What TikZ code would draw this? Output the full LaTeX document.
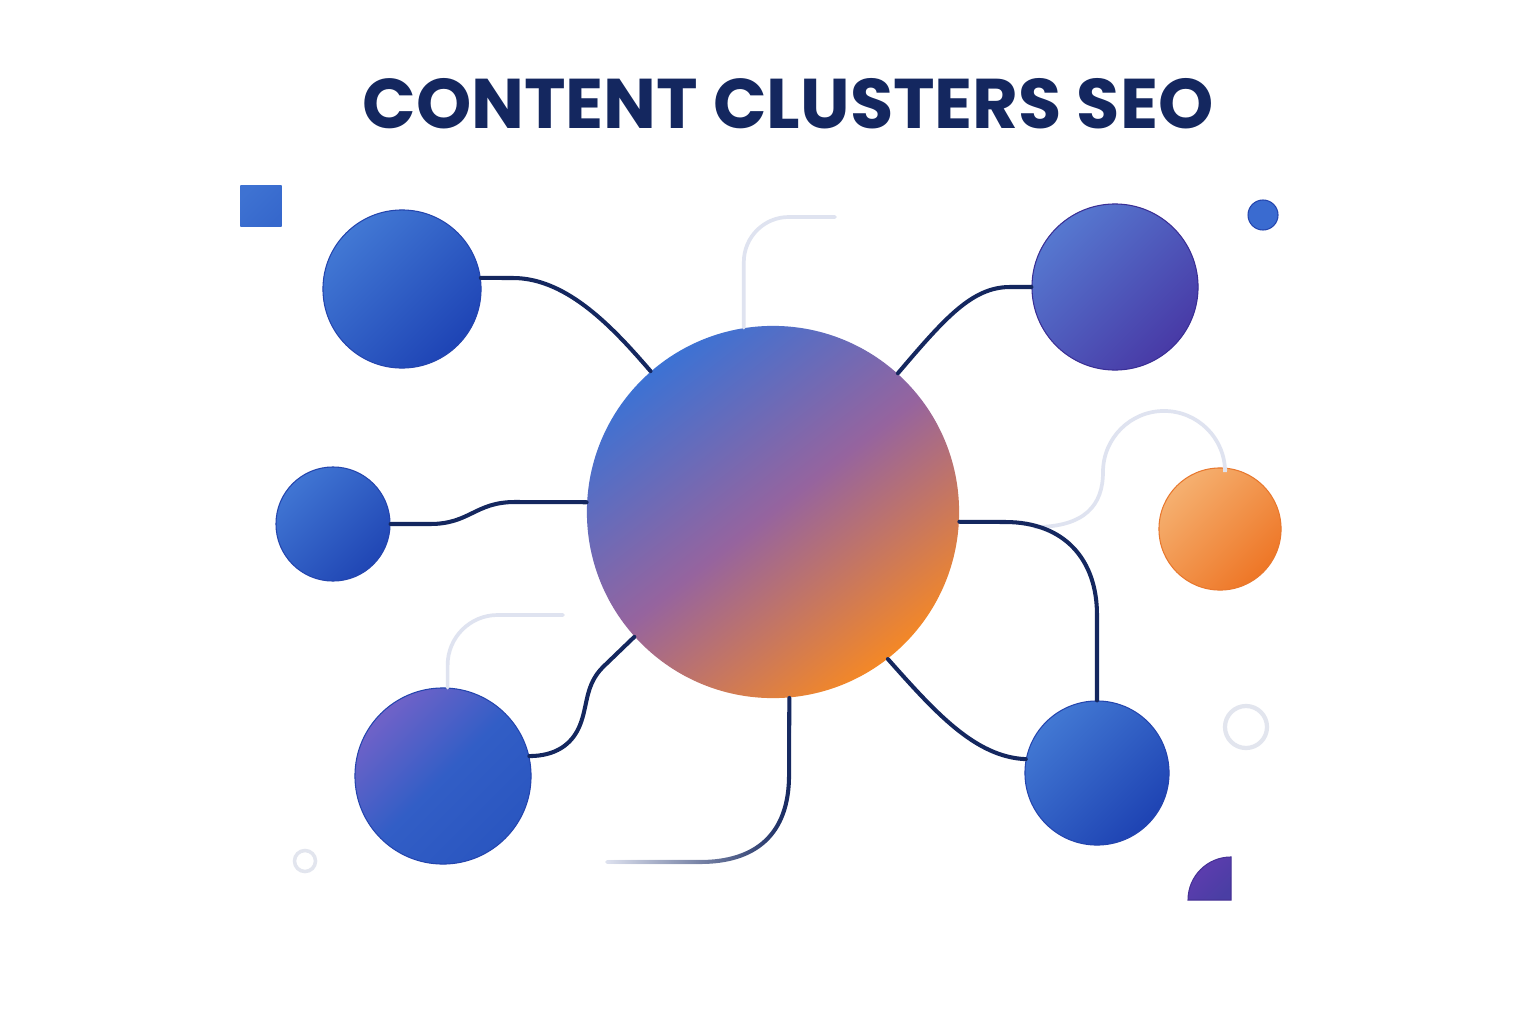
\documentclass[tikz,border=0pt]{standalone}
\usepackage{fontspec}
\newfontfamily\titlefont{Poppins}
\usetikzlibrary{fadings}
\definecolor{navy}{HTML}{14275F}
\definecolor{faintline}{HTML}{DFE3F0}
\definecolor{ringgray}{HTML}{E2E5EE}
\definecolor{edgeblue}{HTML}{2445AE}
\tikzfading[name=fadeleft, left color=transparent!100, right color=transparent!0]
\begin{document}
\begin{tikzpicture}[x=0.01cm, y=-0.01cm,
  ball/.style={circle, minimum size=#1, inner sep=0pt, line width=0.3pt},
  link/.style={draw=navy, line width=1.15pt, line cap=round},
  faint/.style={draw=faintline, line width=1.05pt, line cap=round}]
  \path[use as bounding box, fill=white] (0,0) rectangle (1536,1024);
  \node (title) [font=\titlefont\bfseries\fontsize{20}{24}\selectfont, text=navy] at (788,104) {CONTENT CLUSTERS SEO};
  \node (hub) [ball=3.72cm, top color={rgb,255:red,60;green,114;blue,212}, bottom color={rgb,255:red,244;green,136;blue,38}, middle color={rgb,255:red,150;green,100;blue,158}, shading angle=38] at (773,512) {};
  \node (upperleft) [ball=1.58cm, draw=edgeblue, top color={rgb,255:red,66;green,120;blue,212}, bottom color={rgb,255:red,30;green,68;blue,181}, shading angle=45] at (402,289) {};
  \node (midleft) [ball=1.14cm, draw=edgeblue, top color={rgb,255:red,64;green,117;blue,211}, bottom color={rgb,255:red,32;green,70;blue,180}, shading angle=45] at (333,524) {};
  \node (lowerleft) [ball=1.76cm, draw=edgeblue, top color={rgb,255:red,112;green,98;blue,200}, bottom color={rgb,255:red,42;green,86;blue,192}, middle color={rgb,255:red,50;green,94;blue,198}, shading angle=45] at (443,776) {};
  \node (upperright) [ball=1.66cm, draw={rgb,255:red,58;green,47;blue,149}, top color={rgb,255:red,86;green,120;blue,208}, bottom color={rgb,255:red,72;green,58;blue,166}, shading angle=45] at (1115,287) {};
  \node (midright) [ball=1.22cm, draw={rgb,255:red,232;green,120;blue,46}, top color={rgb,255:red,245;green,176;blue,112}, bottom color={rgb,255:red,238;green,118;blue,38}, shading angle=45] at (1220,529) {};
  \node (lowerright) [ball=1.44cm, draw=edgeblue, top color={rgb,255:red,66;green,120;blue,211}, bottom color={rgb,255:red,30;green,67;blue,179}, shading angle=45] at (1097,773) {};
  \node (square) [rectangle, minimum size=4.1mm, inner sep=0pt, top color={rgb,255:red,62;green,114;blue,210}, bottom color={rgb,255:red,54;green,104;blue,204}, shading angle=45] at (261,206) {};
  \node (dot) [circle, minimum size=3mm, inner sep=0pt, fill={rgb,255:red,58;green,107;blue,208}, draw=edgeblue, line width=0.3pt] at (1263,215) {};
  \node (ringleft) [circle, minimum size=2.1mm, inner sep=0pt, draw=ringgray, line width=1pt] at (305,861) {};
  \node (ringright) [circle, minimum size=4.2mm, inner sep=0pt, draw=ringgray, line width=1.2pt] at (1246,727) {};
  \path[draw={rgb,255:red,70;green,50;blue,150}, line width=0.3pt, top color={rgb,255:red,96;green,60;blue,176}, bottom color={rgb,255:red,74;green,62;blue,164}, shading angle=45] (1231,900) -- (1188,900) arc[start angle=180, end angle=90, radius=4.3mm] -- cycle;
  \coordinate (topend) at (835,217);
  \coordinate (lowend) at (563,615);
  \coordinate (sstart) at (1035,527);
  \coordinate (tail) at (607,862);
  \draw[faint, rounded corners=4.5mm] (hub.99) |- (topend);
  \draw[faint, rounded corners=5mm] (lowerleft.87) |- (lowend);
  \draw[faint] (sstart) .. controls (1085,527) and (1103,505) .. (1103,472) arc[start angle=180, end angle=0, radius=6.1mm] -- (midright.85);
  \draw[faint] (hub.-85) -- (789,775) .. controls (789,835) and (755,862) .. (700,862) -- (tail);
  \draw[link, path fading=fadeleft] (hub.-85) -- (789,775) .. controls (789,835) and (755,862) .. (700,862) -- (tail);
  \draw[link] (upperleft.8) -- (513,278) .. controls (568,278) and (615,330) .. (hub.131);
  \draw[link] (midleft.east) -- (430,524) .. controls (470,524) and (475,502) .. (515,502) -- (hub.177);
  \draw[link] (hub.48) .. controls (945,318) and (972,287) .. (1010,287) -- (upperright.west);
  \draw[link] (hub.-3) -- (1005,522) .. controls (1065,522) and (1097,560) .. (1097,615) -- (lowerright.north);
  \draw[link] (hub.222) -- (603,667) .. controls (585,685) and (588,705) .. (580,725) .. controls (572,745) and (555,756) .. (lowerleft.13);
  \draw[link] (hub.-52) .. controls (935,712) and (975,757) .. (lowerright.169);
\end{tikzpicture}
\end{document}
